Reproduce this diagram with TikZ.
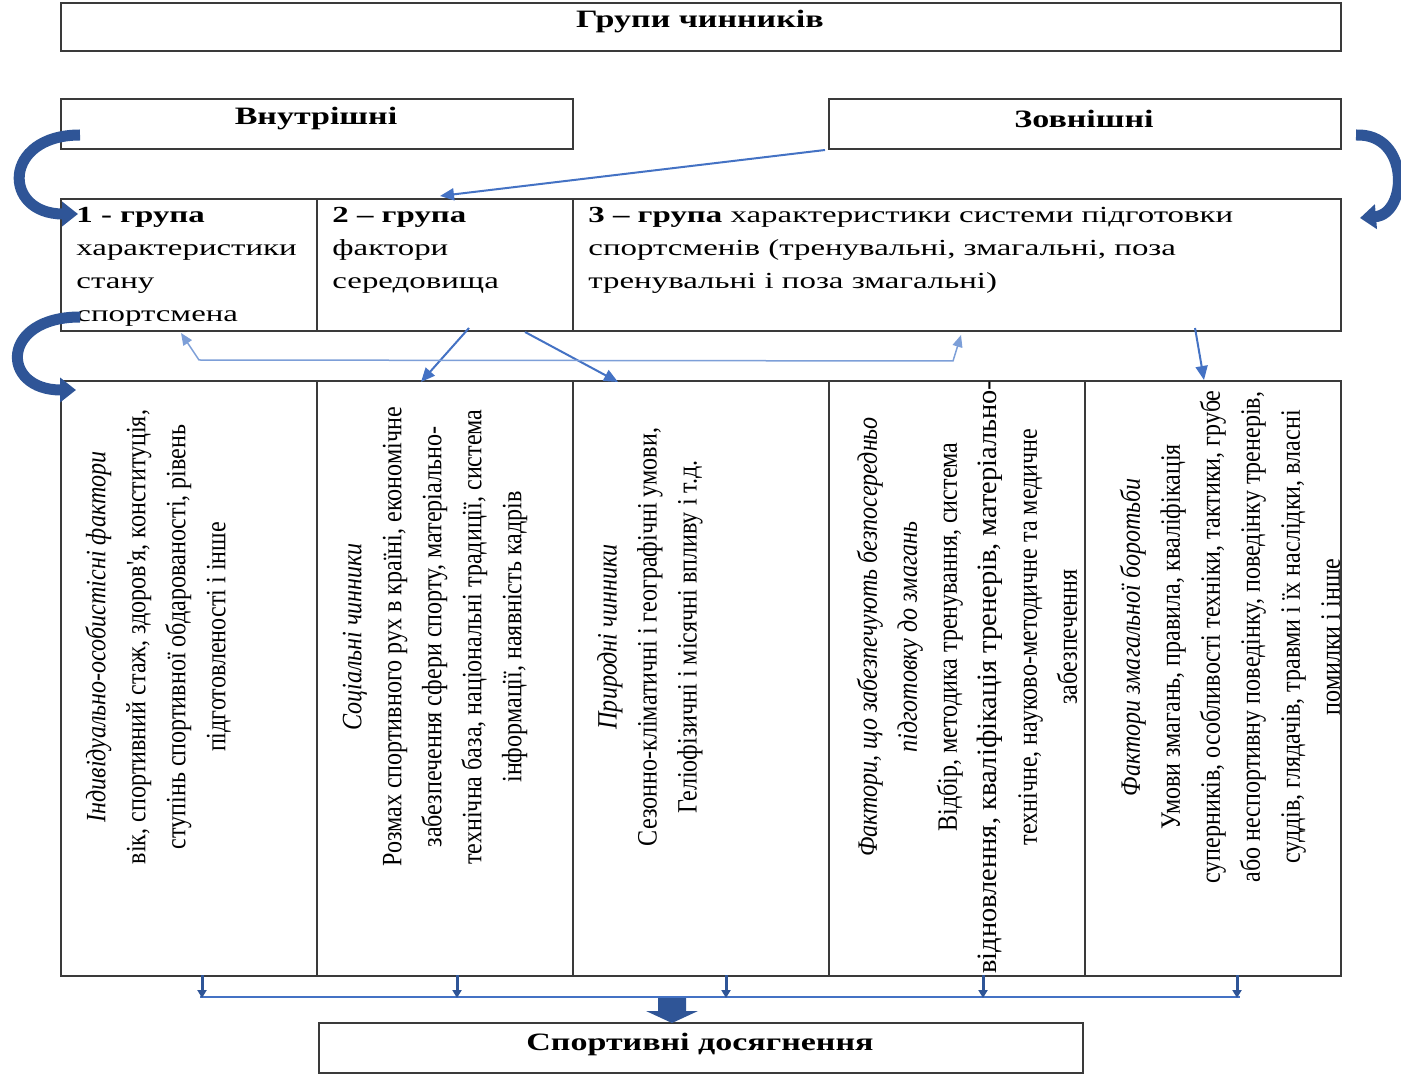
\documentclass[tikz,border=0pt]{standalone}
\usepackage{fontspec}
\setmainfont{Liberation Serif}
\newfontfamily\hfont[FakeStretch=1.43]{Liberation Serif}
\newfontfamily\tfont[FakeStretch=1.36]{Liberation Serif}
\newfontfamily\vfont[FakeStretch=0.86]{Liberation Serif}
\usetikzlibrary{arrows.meta,calc}
\definecolor{boxline}{HTML}{3A3A3A}
\definecolor{midblue}{HTML}{4472C4}
\definecolor{lightblue}{HTML}{7D9FD8}
\definecolor{darkblue}{HTML}{2F5597}
\tikzset{
  box/.style={draw=boxline, line width=0.9pt, inner sep=0pt, anchor=north west},
  htext/.style={font=\hfont\fontsize{11.5}{16.5}\selectfont, align=left, inner sep=0pt, anchor=north west},
  htitle/.style={font=\tfont\bfseries\fontsize{12.5}{15}\selectfont, inner sep=0pt},
  vtext/.style={rotate=90, align=center, font=\vfont\fontsize{14}{20}\selectfont, inner sep=0pt},
  thinarrow/.style={draw=midblue, line width=1pt, -{Triangle[length=7pt,width=6pt]}},
  lightarrow/.style={draw=lightblue, line width=0.75pt, {Triangle[length=6pt,width=5pt]}-{Triangle[length=6pt,width=5pt]}},
  bigarrow/.style={draw=darkblue, line width=5.5pt, -{Triangle[length=8pt,width=12pt]}},
  smallarrow/.style={draw=darkblue, line width=1.5pt, -{Triangle[length=4pt,width=4.5pt]}},
}
\begin{document}
\begin{tikzpicture}[x=0.5pt,y=-0.5pt]
\useasboundingbox (0,0) rectangle (1401,1079);
\fill[white] (0,0) rectangle (1401,1079);

% boxes
\node[box, minimum width=640pt, minimum height=24pt] (top) at (60,2) {};
\node[box, minimum width=256pt, minimum height=25pt] (vn) at (60,98) {};
\node[box, minimum width=256pt, minimum height=25pt] (zo) at (828,98) {};
\node[box, minimum width=128pt, minimum height=66pt] (g1) at (60,198) {};
\node[box, minimum width=128pt, minimum height=66pt] (g2) at (316,198) {};
\node[box, minimum width=384pt, minimum height=66pt] (g3) at (572,198) {};
\node[box, minimum width=128pt, minimum height=297.5pt] (c1) at (60,380) {};
\node[box, minimum width=128pt, minimum height=297.5pt] (c2) at (316,380) {};
\node[box, minimum width=128pt, minimum height=297.5pt] (c3) at (572,380) {};
\node[box, minimum width=128pt, minimum height=297.5pt] (c4) at (828,380) {};
\node[box, minimum width=128pt, minimum height=297.5pt] (c5) at (1084,380) {};
\node[box, minimum width=382pt, minimum height=25pt] (res) at (318,1022) {};

% titles
\node[htitle] (ttop) at (700,22) {Групи чинників};
\node[htitle] (tvn) at (316,119) {Внутрішні};
\node[htitle] (tzo) at (1084,119) {Зовнішні};
\node[htitle] (tres) at (700,1044) {Спортивні досягнення};

% row 2 texts
\node[htext] (t1) at (76,207) {\textbf{1 - група}\\характеристики\\стану\\спортсмена};
\node[htext] (t2) at (332,207) {\textbf{2 – група}\\фактори\\середовища};
\node[htext] (t3) at (588,207) {\textbf{3 – група} характеристики системи підготовки\\спортсменів (тренувальні, змагальні, поза\\тренувальні і поза змагальні)};

% rotated texts
\node[vtext] (v1) at (158,637) {\textit{Індивідуально-особистісні фактори}\\вік, спортивний стаж, здоров'я, конституція,\\ступінь спортивної обдарованості, рівень\\підготовленості і інше};
\node[vtext] (v2) at (435,637) {\textit{Соціальні чинники}\\Розмах спортивного рух в країні, економічне\\забезпечення сфери спорту, матеріально-\\технічна база, національні традиції, система\\інформації, наявність кадрів};
\node[vtext] (v3) at (650,637) {\textit{Природні чинники}\\Сезонно-кліматичні і географічні умови,\\Геліофізичні і місячні впливу і т.д.};
\node[vtext] (v4) at (967,637) {\textit{Фактори, що забезпечують безпосередньо}\\\textit{підготовку до змагань}\\Відбір, методика тренування, система\\\makebox[0pt]{\kern-40pt\scalebox{1.18}[1]{відновлення, кваліфікація тренерів, матеріально-}}\\технічне, науково-методичне та медичне\\забезпечення};
\node[vtext] (v5) at (1230,637) {\textit{Фактори змагальної боротьби}\\Умови змагань, правила, кваліфікація\\суперників, особливості техніки, тактики, грубе\\або неспортивну поведінку, поведінку тренерів,\\суддів, глядачів, травми і їх наслідки, власні\\помилки і інше};

% connector coordinates
\coordinate (zoS) at (825,150);
\coordinate (g2N) at (440,196);
\coordinate (g2a) at (469,328);
\coordinate (c2N) at (421,382);
\coordinate (g2b) at (525,332);
\coordinate (c3N) at (618,382);
\coordinate (g3S) at (1195,328);
\coordinate (c5N) at (1204,380);
\coordinate (g1S) at (181,333);
\coordinate (lk1) at (199,360);
\coordinate (lk2) at (953,361);
\coordinate (g3Sb) at (961,335);

\draw[thinarrow] (zoS) -- (g2N);
\draw[thinarrow] (g2a) -- (c2N);
\draw[thinarrow] (g2b) -- (c3N);
\draw[thinarrow] (g3S) -- (c5N);
\draw[lightarrow] (g1S) -- (lk1) -- (lk2) -- (g3Sb);

% big curved arrows
\coordinate (cA1) at (80,135);
\coordinate (cA2) at (78,214);
\coordinate (cB1) at (80,317);
\coordinate (cB2) at (76,390);
\coordinate (cC1) at (1356,135);
\coordinate (cC2) at (1360,218);
\draw[bigarrow] (cA1) .. controls (2,135) and (2,214) .. (cA2);
\draw[bigarrow] (cB1) .. controls (0,317) and (0,390) .. (cB2);
\draw[bigarrow] (cC1) .. controls (1410,133) and (1408,214) .. (cC2);

% bottom collectors
\coordinate (b1) at (202,975); \coordinate (e1) at (202,998);
\coordinate (b2) at (457,975); \coordinate (e2) at (457,998);
\coordinate (b3) at (726,975); \coordinate (e3) at (726,998);
\coordinate (b4) at (983,975); \coordinate (e4) at (983,998);
\coordinate (b5) at (1237,975); \coordinate (e5) at (1237,998);
\draw[midblue, line width=0.75pt] (200,997) -- (1240,997);
\foreach \i in {1,...,5} {\draw[smallarrow] (b\i) -- (e\i);}
\fill[darkblue] (658,998) -- (686,998) -- (686,1011) -- (698,1011) -- (672,1023) -- (646,1011) -- (658,1011) -- cycle;
\end{tikzpicture}
\end{document}
